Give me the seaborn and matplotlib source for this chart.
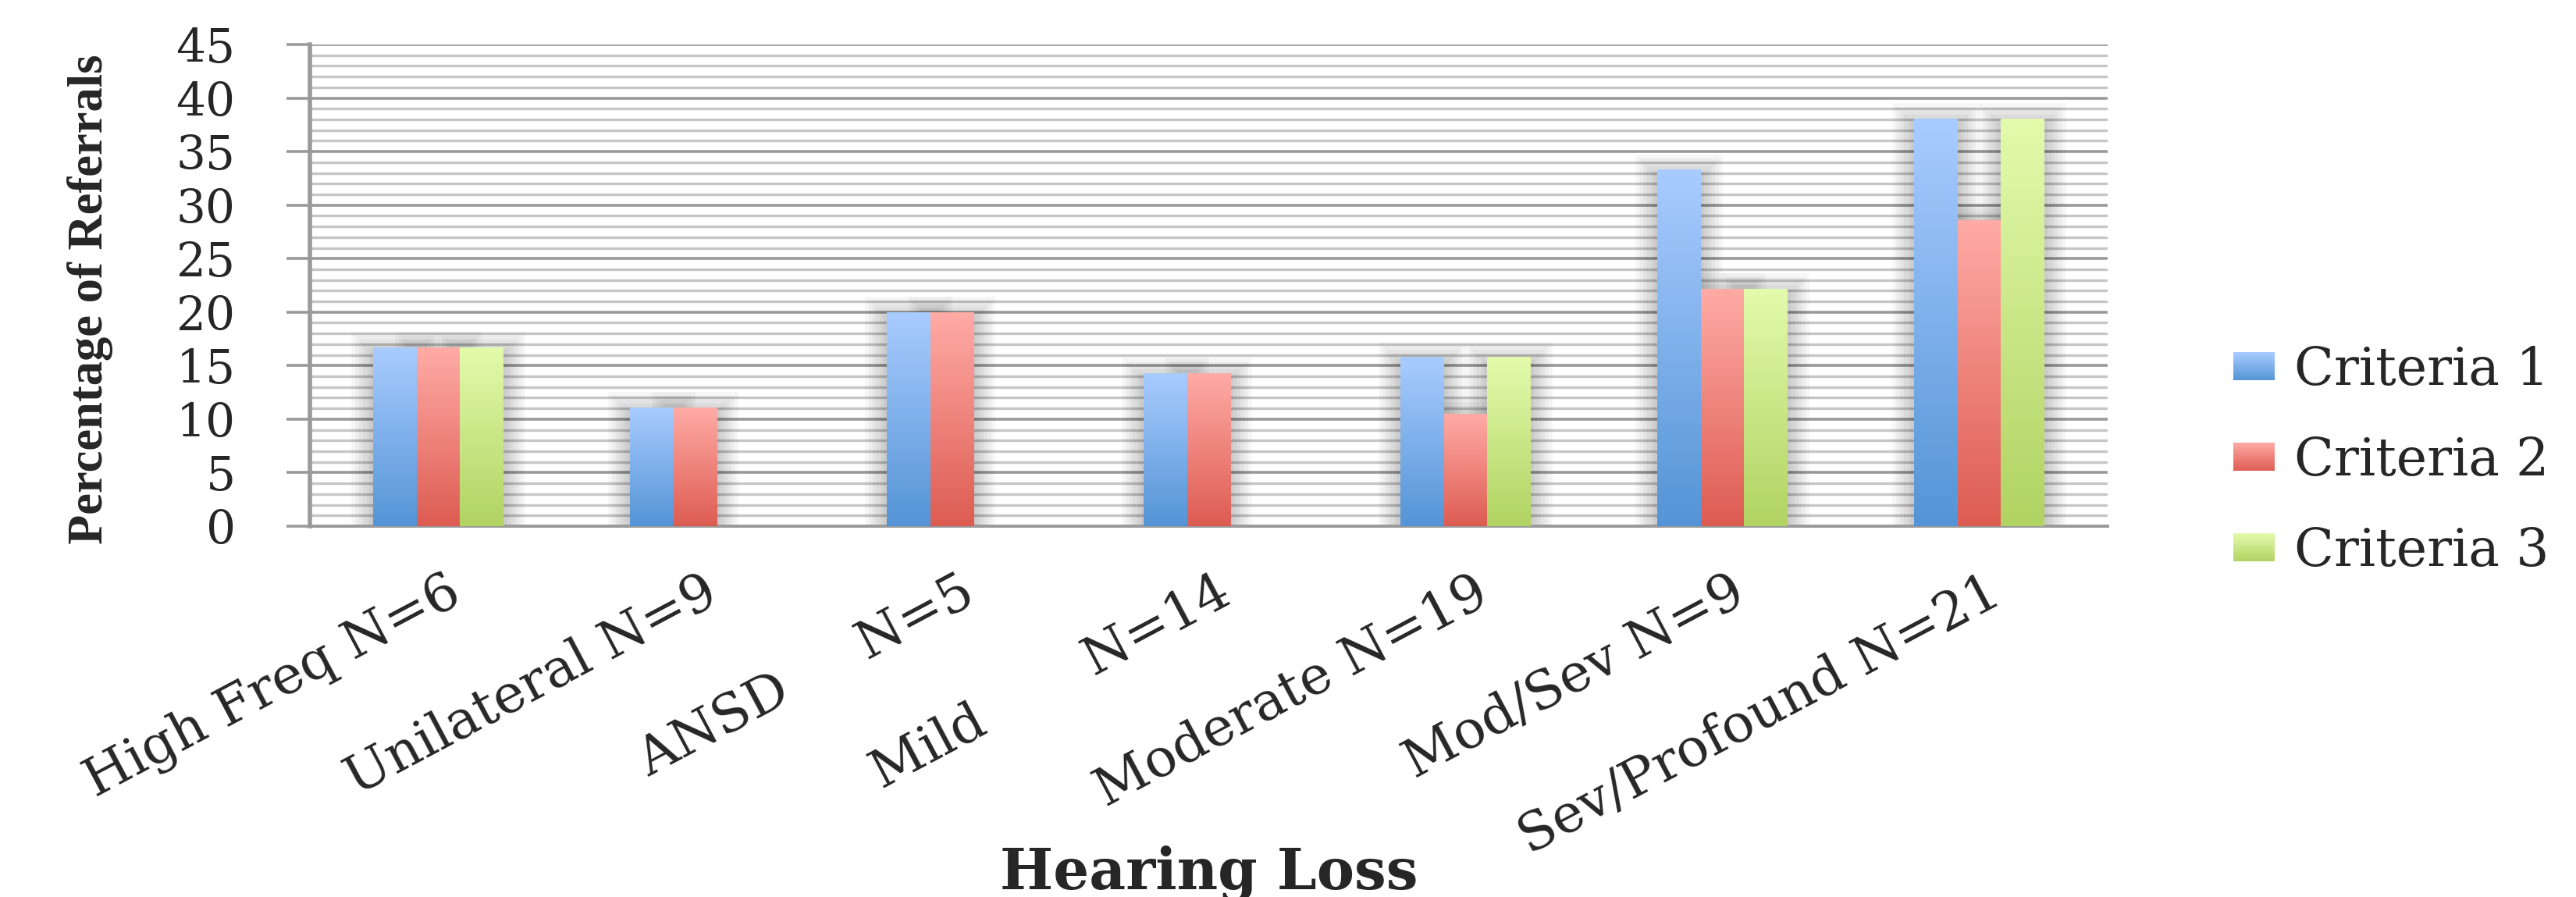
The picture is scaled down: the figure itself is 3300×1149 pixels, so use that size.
import numpy as np
import pandas as pd
import matplotlib
matplotlib.use("Agg")
import matplotlib.pyplot as plt
import matplotlib.transforms as mtransforms
import seaborn as sns
from matplotlib import patheffects as pe
from matplotlib.colors import LinearSegmentedColormap
from matplotlib.legend_handler import HandlerBase
from matplotlib.patches import Patch, Rectangle
from matplotlib.ticker import MultipleLocator

# ---- data -------------------------------------------------------------
categories = [
    "High Freq N=6",
    "Unilateral N=9",
    "ANSD     N=5",
    "Mild       N=14",
    "Moderate N=19",
    "Mod/Sev N=9",
    "Sev/Profound N=21",
]
series = ["Criteria 1", "Criteria 2", "Criteria 3"]
criteria_1 = [16.7, 11.1, 20.0, 14.3, 15.8, 33.3, 38.1]
criteria_2 = [16.7, 11.1, 20.0, 14.3, 10.5, 22.2, 28.6]
criteria_3 = [16.7, 0.0, 0.0, 0.0, 15.8, 22.2, 38.1]
y_ticks = [0, 5, 10, 15, 20, 25, 30, 35, 40, 45]

# gradient colours per series (top of bar -> bottom of bar)
top_colors = ["#A9CCFF", "#FFABA6", "#E3FBAC"]
bottom_colors = ["#5494D6", "#DD5C52", "#B1D362"]
mid_colors = ["#80AEEB", "#EE837C", "#CAE786"]

df = pd.DataFrame({
    "Hearing Loss": categories * 3,
    "Criteria": np.repeat(series, len(categories)),
    "Percentage": criteria_1 + criteria_2 + criteria_3,
})

# ---- style ------------------------------------------------------------
sns.set_style("white")
plt.rcParams["font.family"] = ["DejaVu Serif"]

W, H, DPI = 3300, 1149, 100
fig = plt.figure(figsize=(W / DPI, H / DPI), dpi=DPI)
ax = fig.add_axes([397 / W, 1 - 674 / H, (2700 - 397) / W, (674 - 57) / H])

sns.barplot(
    data=df, x="Hearing Loss", y="Percentage", hue="Criteria",
    order=categories, hue_order=series,
    palette=dict(zip(series, mid_colors)),
    width=0.505, errorbar=None, legend=False, ax=ax, zorder=1,
    linewidth=0,
)

# soft drop shadow behind each bar
shadow = [pe.Stroke(linewidth=lw, foreground="black", alpha=0.035, offset=(0, -6))
          for lw in (40, 33, 26, 19, 12, 6)] + [pe.Normal()]

# vertical gradient fill clipped to each bar
grad = np.linspace(0, 1, 256).reshape(-1, 1)
for container, top, bottom in zip(ax.containers, top_colors, bottom_colors):
    cmap = LinearSegmentedColormap.from_list("bar", [bottom, top])
    for bar in container:
        h = bar.get_height()
        if not h > 0:
            bar.set_visible(False)
            continue
        bar.set_path_effects(shadow)
        x0, w = bar.get_x(), bar.get_width()
        im = ax.imshow(grad, extent=(x0, x0 + w, 0, h), origin="lower",
                       cmap=cmap, aspect="auto", interpolation="bicubic", zorder=3)
        im.set_clip_path(bar)

ax.set_xlim(-0.5, len(categories) - 0.5)
ax.set_ylim(0, 45)
ax.set_aspect("auto")

# ---- axes, grid -------------------------------------------------------
ax.set_axisbelow(True)
ax.set_yticks(y_ticks)
ax.yaxis.set_minor_locator(MultipleLocator(1))
ax.grid(axis="y", which="major", color="#9A9A9A", linewidth=2.6)
ax.grid(axis="y", which="minor", color="#C6C6C6", linewidth=2.4)
ax.grid(axis="x", visible=False)

for side in ("top", "right"):
    ax.spines[side].set_visible(False)
ax.spines["left"].set_color("#9A9A9A")
ax.spines["left"].set_linewidth(4.0)
ax.spines["bottom"].set_color("#9A9A9A")
ax.spines["bottom"].set_linewidth(2.8)

ax.tick_params(axis="y", which="major", length=21.6, width=2.6, color="#9A9A9A",
               pad=47, labelsize=43, left=True)
ax.tick_params(axis="y", which="minor", length=0)
ax.tick_params(axis="x", length=0, pad=58, labelsize=49)

shift = mtransforms.ScaledTranslation(24 / DPI, 0, fig.dpi_scale_trans)
for lbl in ax.get_xticklabels():
    lbl.set_rotation(28)
    lbl.set_ha("right")
    lbl.set_va("center")
    lbl.set_rotation_mode("anchor")
    lbl.set_transform(lbl.get_transform() + shift)

ax.set_xlabel("Hearing Loss", fontsize=52, fontweight="bold", va="baseline")
ax.xaxis.set_label_coords(0.5, (674 - 1139) / (674 - 57))
ax.set_ylabel("Percentage of Referrals", family="Liberation Serif",
              fontsize=45, fontweight="bold", va="center")
ax.yaxis.set_label_coords((116 - 397) / (2700 - 397), (674 - 383) / (674 - 57))


# ---- legend with gradient swatches -------------------------------------
class GradientSwatch(HandlerBase):
    def __init__(self, top, bottom, steps=24):
        super().__init__()
        self.cmap = LinearSegmentedColormap.from_list("swatch", [bottom, top])
        self.steps = steps

    def create_artists(self, legend, orig_handle, xdescent, ydescent,
                       width, height, fontsize, trans):
        arts = []
        for i in range(self.steps):
            r = Rectangle((-xdescent, -ydescent + height * i / self.steps),
                          width, height / self.steps * 1.05,
                          facecolor=self.cmap((i + 0.5) / self.steps),
                          edgecolor="none", linewidth=0, antialiased=False,
                          transform=trans)
            arts.append(r)
        return arts


handles = [Patch(label=s) for s in series]
handler_map = {h: GradientSwatch(t, b) for h, t, b in zip(handles, top_colors, bottom_colors)}
fs = 48
fs_px = fs * DPI / 72
fig.legend(handles=handles, labels=series, handler_map=handler_map,
           loc="center left", bbox_to_anchor=(2861 / W, 1 - 590 / H),
           frameon=False, fontsize=fs, borderpad=0, borderaxespad=0,
           handlelength=53 / fs_px, handleheight=31 / fs_px,
           handletextpad=25 / fs_px, labelspacing=0.76)

fig.savefig("out.png", dpi=DPI, facecolor="white")
